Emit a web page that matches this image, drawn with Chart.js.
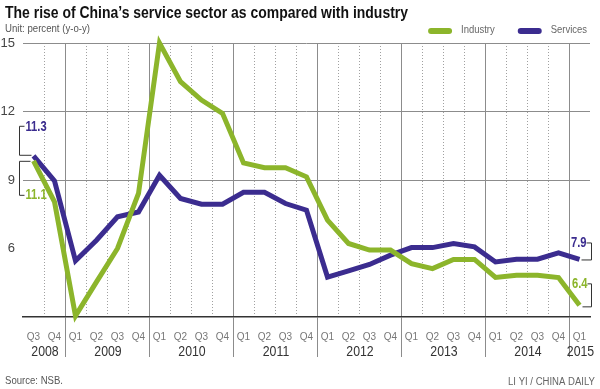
<!DOCTYPE html>
<html>
<head>
<meta charset="utf-8">
<script src="https://cdn.jsdelivr.net/npm/chart.js@4.4.1/dist/chart.umd.min.js"></script>
<style>
  html,body{margin:0;padding:0;background:#fff;}
  #caixa{width:600px;height:389px;position:relative;}
</style>
</head>
<body>
<div id="caixa"><canvas id="cvsServicos"></canvas></div>
<script>
//dados do grafico
const trimestres = ['Q3','Q4',
  'Q1','Q2','Q3','Q4', 'Q1','Q2','Q3','Q4', 'Q1','Q2','Q3','Q4',
  'Q1','Q2','Q3','Q4', 'Q1','Q2','Q3','Q4', 'Q1','Q2','Q3','Q4',
  'Q1'];
const anos = ['2008','2009','2010','2011','2012','2013','2014','2015'];
const trimestresPorAno = [2,4,4,4,4,4,4,1];
const industria = [9.84, 8.04, 3.05, 4.54, 6.0, 8.41, 15.0, 13.31, 12.5, 11.92,
  9.75, 9.54, 9.54, 9.14, 7.24, 6.22, 5.93, 5.93, 5.34, 5.12, 5.52, 5.52,
  4.73, 4.83, 4.83, 4.73, 3.51];
const servicos = [10.06, 8.96, 5.46, 6.36, 7.39, 7.6, 9.21, 8.19, 7.94, 7.94,
  8.46, 8.46, 7.97, 7.68, 4.75, 5.02, 5.30, 5.71, 6.04, 6.04, 6.22, 6.07,
  5.41, 5.53, 5.53, 5.81, 5.52];
const ticksY = [6, 9, 12, 15];
const rotuloInicio = {servicos: '11.3', industria: '11.1'};
const rotuloFim = {servicos: '7.9', industria: '6.4'};

//cores e fontes
const corIndustria = '#8cb52b';
const corServicos = '#3b2c8f';
const fonte = '"Liberation Sans", Arial, sans-serif';

//indices onde comeca cada ano (linha solida)
let inicioAno = [];
let acc = 0;
trimestresPorAno.forEach(q => { inicioAno.push(acc); acc += q; });
const linhasAno = new Set(inicioAno.filter(i => i > 0));

const ctxServicos = document.getElementById("cvsServicos");

//escreve texto apertado na horizontal (fonte condensada do original)
function textoApertado(ctx, txt, x, y, aperto) {
  ctx.save();
  ctx.translate(x, y);
  ctx.scale(aperto, 1);
  ctx.fillText(txt, 0, 0);
  ctx.restore();
}

//escreve texto ocupando uma largura
function textoLargura(ctx, txt, x, y, largura) {
  const w = ctx.measureText(txt).width;
  textoApertado(ctx, txt, x, y, largura / w);
}

//plugin com os textos e anotações
const textosPlugin = {
  id: 'textos',
  afterDraw(chart) {
    const ctx = chart.ctx;
    const xs = chart.scales.x;
    const ys = chart.scales.y;
    ctx.save();

    //titulo
    ctx.font = 'bold 17px ' + fonte;
    ctx.fillStyle = '#111';
    ctx.textBaseline = 'alphabetic';
    ctx.textAlign = 'left';
    textoLargura(ctx, "The rise of China\u2019s service sector as compared with industry", 5, 18, 403);

    //unidade
    ctx.font = '11px ' + fonte;
    ctx.fillStyle = '#555';
    ctx.textBaseline = 'middle';
    textoLargura(ctx, 'Unit: percent (y-o-y)', 5, 29, 85);

    //legenda (alinhada a direita)
    ctx.font = '11px ' + fonte;
    const aperto = 0.86;
    const itens = chart.data.datasets.map(ds => ({
      ds, w: ctx.measureText(ds.label).width * aperto
    }));
    let total = 0;
    itens.forEach((it, k) => { total += 24 + 9 + it.w + (k < itens.length - 1 ? 23 : 0); });
    let lx = 587 - total;
    itens.forEach(it => {
      ctx.fillStyle = it.ds.borderColor;
      ctx.beginPath();
      ctx.roundRect(lx, 28, 24, 6, 3);
      ctx.fill();
      ctx.fillStyle = '#666';
      textoApertado(ctx, it.ds.label, lx + 33, 30, aperto);
      lx += 24 + 9 + it.w + 23;
    });

    //anos embaixo do eixo
    ctx.font = '15px ' + fonte;
    ctx.fillStyle = '#333';
    ctx.textAlign = 'center';
    anos.forEach((ano, k) => {
      const a = inicioAno[k];
      const b = a + trimestresPorAno[k] - 1;
      const cx = (xs.getPixelForValue(a) + xs.getPixelForValue(b)) / 2;
      textoApertado(ctx, ano, cx + 1, 352, 0.82);
    });

    //anotações
    const n = industria.length - 1;
    const xi = xs.getPixelForValue(0);
    const ySi = ys.getPixelForValue(servicos[0]);
    const yIi = ys.getPixelForValue(industria[0]);
    const xf = xs.getPixelForValue(n);
    const ySf = ys.getPixelForValue(servicos[n]);
    const yIf = ys.getPixelForValue(industria[n]);

    ctx.strokeStyle = '#333';
    ctx.lineWidth = 1;
    const bx = Math.round(xi - 15) + 0.5;
    ctx.beginPath();
    ctx.moveTo(bx + 5, ySi - 29.5); ctx.lineTo(bx, ySi - 29.5);
    ctx.lineTo(bx, ySi - 0.5); ctx.lineTo(xi - 2, ySi - 0.5);
    ctx.moveTo(xi - 3, yIi + 0.5); ctx.lineTo(bx, yIi + 0.5);
    ctx.lineTo(bx, yIi + 34.5); ctx.lineTo(bx + 5, yIi + 34.5);
    const bxf = Math.round(xf + 11) + 0.5;
    ctx.moveTo(xf + 7, ySf - 16.5); ctx.lineTo(bxf, ySf - 16.5);
    ctx.lineTo(bxf, ySf + 0.5); ctx.lineTo(xf + 2, ySf + 0.5);
    ctx.moveTo(xf + 8, yIf - 21.5); ctx.lineTo(bxf, yIf - 21.5);
    ctx.lineTo(bxf, yIf + 1.5); ctx.lineTo(xf + 3, yIf + 1.5);
    ctx.stroke();

    ctx.font = 'bold 14px ' + fonte;
    ctx.textAlign = 'left';
    ctx.fillStyle = corServicos;
    textoApertado(ctx, rotuloInicio.servicos, bx + 6, ySi - 29, 0.8);
    ctx.fillStyle = corIndustria;
    textoApertado(ctx, rotuloInicio.industria, bx + 6, yIi + 34, 0.8);
    ctx.textAlign = 'right';
    ctx.fillStyle = corServicos;
    textoApertado(ctx, rotuloFim.servicos, xf + 7, ySf - 16, 0.8);
    ctx.fillStyle = corIndustria;
    textoApertado(ctx, rotuloFim.industria, xf + 8, yIf - 21, 0.8);

    //rodape
    ctx.font = '11px ' + fonte;
    ctx.fillStyle = '#555';
    ctx.textAlign = 'left';
    textoLargura(ctx, 'Source: NSB.', 5, 381, 58);
    ctx.font = '10px ' + fonte;
    ctx.fillStyle = '#666';
    textoLargura(ctx, 'LI YI / CHINA DAILY', 508, 382, 87);

    ctx.restore();
  }
};

new Chart(ctxServicos, {
  type: 'line',
  data: {
    labels: trimestres,
    datasets: [
      {
        label: 'Industry',
        data: industria,
        borderColor: corIndustria,
        backgroundColor: corIndustria,
        borderWidth: 5,
        pointRadius: 0,
        tension: 0,
        clip: false
      },
      {
        label: 'Services',
        data: servicos,
        borderColor: corServicos,
        backgroundColor: corServicos,
        borderWidth: 5,
        pointRadius: 0,
        tension: 0,
        clip: false
      }
    ]
  },
  options: {
    responsive: true,
    maintainAspectRatio: false,
    animation: false,
    layout: { padding: { top: 43, left: 0, right: 10, bottom: 0 } },
    plugins: {
      legend: { display: false },
      title: { display: false },
      tooltip: { enabled: false }
    },
    scales: {
      x: {
        type: 'category',
        offset: true,
        grid: {
          offset: true,
          color: c => linhasAno.has(c.index) ? '#8c8c8c' : 'rgba(0,0,0,0)',
          tickColor: c => linhasAno.has(c.index) ? '#8c8c8c' : 'rgba(0,0,0,0)',
          lineWidth: 1,
          tickWidth: 1,
          drawTicks: true,
          tickLength: 40
        },
        border: { display: true, color: '#333', width: 1.5 },
        ticks: {
          autoSkip: false,
          maxRotation: 0,
          padding: -26,
          color: '#777',
          font: { family: fonte, size: 10 }
        },
        afterFit: s => { s.height = 72; }
      },
      xq: {
        type: 'category',
        position: 'top',
        offset: true,
        grid: {
          offset: true,
          color: c => (c.index > 0 && c.index < trimestres.length && !linhasAno.has(c.index)) ? '#a0a0a0' : 'rgba(0,0,0,0)',
          lineWidth: 1,
          drawTicks: false
        },
        border: { display: false, dash: [1, 2] },
        ticks: { display: false },
        afterFit: s => { s.height = 0; }
      },
      y: {
        min: 3,
        max: 15,
        afterBuildTicks: s => { s.ticks = ticksY.map(v => ({ value: v })); },
        grid: {
          color: c => (c.tick && c.tick.value === 6) ? 'rgba(0,0,0,0)' : '#8c8c8c',
          lineWidth: 1,
          drawTicks: false
        },
        border: { display: false },
        ticks: {
          padding: 8,
          color: '#444',
          font: { family: fonte, size: 13 }
        },
        afterFit: s => { s.width = 23; }
      }
    }
  },
  plugins: [textosPlugin]
});
</script>
</body>
</html>
